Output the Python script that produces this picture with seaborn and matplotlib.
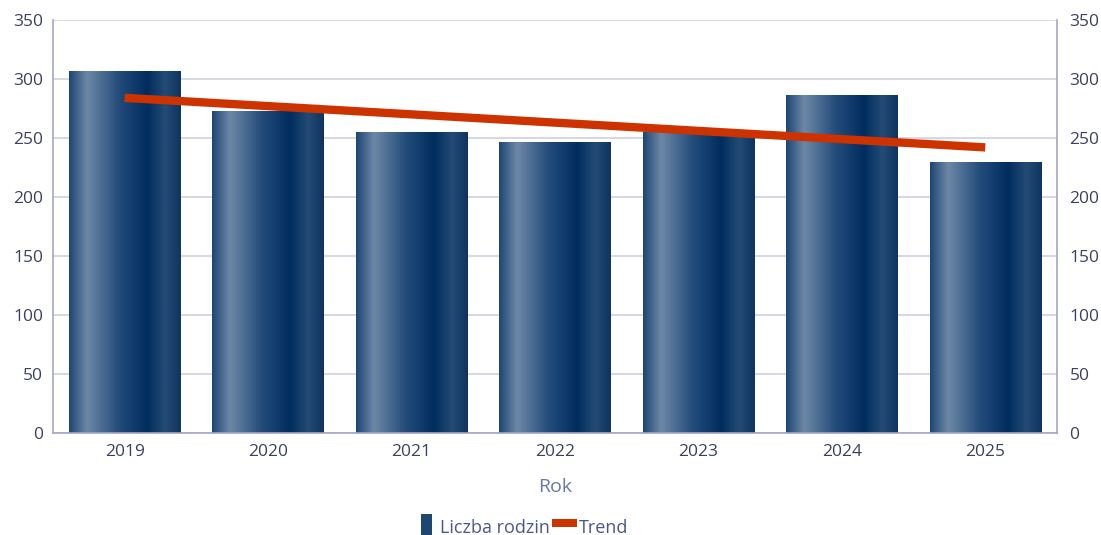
import numpy as np
import pandas as pd
import matplotlib
matplotlib.use("Agg")
import matplotlib.pyplot as plt
import seaborn as sns
from matplotlib.colors import LinearSegmentedColormap
from matplotlib.patches import Patch, Rectangle
from matplotlib.legend_handler import HandlerPatch

# data
years = ["2019", "2020", "2021", "2022", "2023", "2024", "2025"]
families = [307, 273, 255, 247, 255, 286, 230]
trend_years = ["2019", "2025"]
trend_vals = [284, 242]

df = pd.DataFrame({"Rok": years, "Liczba rodzin": families})

sns.set_theme(style="white")
plt.rcParams["font.family"] = ["Open Sans", "DejaVu Sans"]

fig = plt.figure(figsize=(11.01, 5.35), dpi=100)
ax = fig.add_axes([0.048, 0.1907, 0.912, 0.772])

sns.barplot(data=df, x="Rok", y="Liczba rodzin", color="#0b3566", width=0.776,
            ax=ax, zorder=2, saturation=1)

# horizontal gradient on every bar
grad = LinearSegmentedColormap.from_list("bar", [
    (0.0, "#1d4673"), (0.16, "#6d88a6"), (0.45, "#224b7a"),
    (0.70, "#002d5f"), (0.86, "#234b74"), (1.0, "#0e345f")])
g = np.linspace(0, 1, 256).reshape(1, -1)
for p in ax.patches:
    x0, y0 = p.get_x(), p.get_y()
    w, h = p.get_width(), p.get_height()
    im = ax.imshow(g, cmap=grad, aspect="auto", extent=[x0, x0 + w, y0, y0 + h],
                   zorder=2.5)
    im.set_clip_path(p)
    p.set_edgecolor("none")

pos = [years.index(y) for y in trend_years]
ax.plot(pos, trend_vals, color="#cc3300", lw=6, solid_capstyle="butt", zorder=3)

ax.set_xlim(-0.5, len(years) - 0.5)
ax.set_ylim(0, 350)
ax.set_yticks(range(0, 351, 50))
ax.yaxis.grid(True, color="#cfd0e2", lw=1.2, zorder=0)
ax.set_axisbelow(True)

axis_col = "#a4a6c4"
for s in ["left", "right", "bottom"]:
    ax.spines[s].set_visible(True)
    ax.spines[s].set_color(axis_col)
    ax.spines[s].set_linewidth(1.2)
ax.spines["top"].set_visible(False)

lab_col = "#3b4060"
ax.tick_params(axis="both", length=0, labelsize=12.5, labelcolor=lab_col)
ax.tick_params(axis="y", pad=7)
ax.tick_params(axis="x", pad=8)
ax.set_ylabel("")
ax.set_xlabel("Rok", fontsize=14, color="#6a76a6", labelpad=13)

ax2 = ax.twinx()
ax2.set_ylim(ax.get_ylim())
ax2.set_yticks(range(0, 351, 50))
ax2.tick_params(axis="y", length=0, labelsize=12.5, labelcolor=lab_col, pad=9)
for s in ax2.spines.values():
    s.set_visible(False)
ax2.grid(False)


def bar_key(legend, orig_handle, xdescent, ydescent, width, height, fontsize):
    return Rectangle((xdescent + width * 0.3, ydescent - height * 0.25),
                     width * 0.45, height * 1.4)


def line_key(legend, orig_handle, xdescent, ydescent, width, height, fontsize):
    return Rectangle((xdescent, ydescent + height * 0.25), width, height * 0.6)


handles = [Patch(facecolor="#1d4673", edgecolor="none"),
           Patch(facecolor="#cc3300", edgecolor="none")]
leg = fig.legend(handles, ["Liczba rodzin", "Trend"], loc="center",
                 bbox_to_anchor=(0.473, 0.014), ncol=2, frameon=False,
                 fontsize=13, handlelength=1.4, handleheight=0.9,
                 handletextpad=0.1, columnspacing=0.1,
                 handler_map={handles[0]: HandlerPatch(patch_func=bar_key),
                              handles[1]: HandlerPatch(patch_func=line_key)})
for t in leg.get_texts():
    t.set_color("#4a5690")

fig.savefig("out.png", dpi=100)
